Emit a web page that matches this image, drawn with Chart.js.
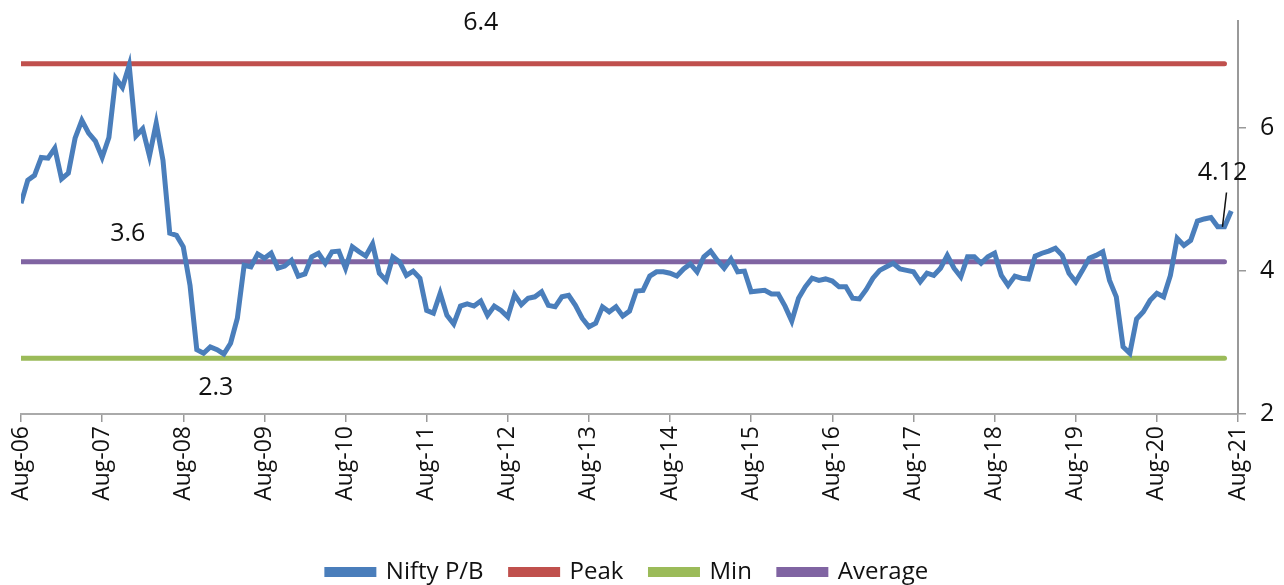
<!DOCTYPE html>
<html lang="en">
<head>
    <meta charset="UTF-8">
    <title>Nifty P/B</title>
    <script src="https://cdn.jsdelivr.net/npm/chart.js"></script>
    <style>
        html, body { margin: 0; padding: 0; background: #fff; }
        #wrap { width: 1284px; height: 585px; }
    </style>
</head>
<body>
    <div id="wrap"><canvas id="pbChart"></canvas></div>

    <script>
        // yearly tick labels on the x axis (one every 12 months)
        const tickLabels = ["Aug-06", "Aug-07", "Aug-08", "Aug-09", "Aug-10", "Aug-11", "Aug-12", "Aug-13",
            "Aug-14", "Aug-15", "Aug-16", "Aug-17", "Aug-18", "Aug-19", "Aug-20", "Aug-21"];
        const yTicks = [2, 4, 6];

        // monthly Nifty P/B, Aug-06 .. Jul-21
        const niftyPB = [
            4.95, 5.27, 5.34, 5.59, 5.58, 5.72, 5.29, 5.37, 5.86, 6.11, 5.93, 5.82,
            5.59, 5.87, 6.70, 6.57, 6.88, 5.89, 5.99, 5.61, 6.07, 5.55, 4.53, 4.50,
            4.34, 3.80, 2.90, 2.85, 2.94, 2.90, 2.84, 2.99, 3.34, 4.08, 4.06, 4.24,
            4.18, 4.25, 4.04, 4.07, 4.15, 3.93, 3.96, 4.20, 4.25, 4.11, 4.27, 4.28,
            4.04, 4.34, 4.27, 4.21, 4.38, 3.97, 3.87, 4.20, 4.13, 3.94, 4.00, 3.90,
            3.45, 3.41, 3.69, 3.38, 3.26, 3.51, 3.54, 3.51, 3.58, 3.38, 3.51, 3.45,
            3.36, 3.67, 3.53, 3.62, 3.64, 3.71, 3.52, 3.50, 3.64, 3.66, 3.52, 3.34,
            3.22, 3.27, 3.50, 3.43, 3.50, 3.37, 3.44, 3.72, 3.73, 3.93, 3.99, 3.99,
            3.97, 3.93, 4.03, 4.10, 3.99, 4.20, 4.28, 4.15, 4.04, 4.17, 3.99, 4.00,
            3.71, 3.72, 3.73, 3.68, 3.68, 3.51, 3.30, 3.62, 3.78, 3.90, 3.87, 3.89,
            3.86, 3.78, 3.78, 3.62, 3.61, 3.74, 3.90, 4.01, 4.06, 4.11, 4.03, 4.01,
            3.99, 3.85, 3.97, 3.94, 4.04, 4.22, 4.04, 3.92, 4.20, 4.20, 4.11, 4.20,
            4.25, 3.94, 3.80, 3.93, 3.90, 3.89, 4.21, 4.25, 4.28, 4.32, 4.22, 3.97,
            3.85, 4.01, 4.18, 4.22, 4.27, 3.87, 3.64, 2.94, 2.85, 3.33, 3.43, 3.59,
            3.69, 3.64, 3.94, 4.46, 4.36, 4.43, 4.70, 4.73, 4.75, 4.62, 4.62, 4.84
        ];

        const peakValue = 6.90;
        const minValue = 2.78;
        const avgValue = 4.13;
        const refLineMonths = 179;   // reference lines stop a little before the series end

        const flatLine = v => Array.from({ length: refLineMonths }, (_, i) => ({ x: i, y: v }));

        // text notes drawn on top of the chart, in data coordinates
        const notesPlugin = {
            id: 'notes',
            afterLayout(chart) {
                // legend sits a bit left of the canvas centre in the original
                chart.legend.left -= 25;
                chart.legend.right -= 25;
            },
            afterDatasetsDraw(chart) {
                const { ctx, scales: { x, y } } = chart;
                const notes = [
                    { text: "6.4", x: 68, y: 7.48 },
                    { text: "3.6", x: 15.8, y: 4.52 },
                    { text: "2.3", x: 28.8, y: 2.36 },
                    { text: "4.12", x: 177.7, y: 5.38 }
                ];
                ctx.save();
                ctx.fillStyle = "#111";
                ctx.font = "25px 'Open Sans'";
                ctx.textAlign = "center";
                ctx.textBaseline = "middle";
                notes.forEach(n => ctx.fillText(n.text, x.getPixelForValue(n.x), y.getPixelForValue(n.y)));
                // leader line from the 4.12 label down to the series
                ctx.strokeStyle = "#111";
                ctx.lineWidth = 1.5;
                ctx.beginPath();
                ctx.moveTo(x.getPixelForValue(178.3), y.getPixelForValue(5.10));
                ctx.lineTo(x.getPixelForValue(177.7), y.getPixelForValue(4.62));
                ctx.stroke();
                ctx.restore();
            }
        };

        function runChart() {
            const ctx = document.getElementById('pbChart').getContext('2d');
            new Chart(ctx, {
                type: 'line',
                data: {
                    datasets: [
                        {
                            label: "Nifty P/B",
                            data: niftyPB.map((v, i) => ({ x: i, y: v })),
                            borderColor: "#4a7ebb",
                            backgroundColor: "#4a7ebb",
                            borderWidth: 5,
                            order: 0
                        },
                        {
                            label: "Peak",
                            data: flatLine(peakValue),
                            borderColor: "#c0504d",
                            backgroundColor: "#c0504d",
                            borderWidth: 5,
                            borderCapStyle: 'round',
                            order: 1
                        },
                        {
                            label: "Min",
                            data: flatLine(minValue),
                            borderColor: "#9bbb59",
                            backgroundColor: "#9bbb59",
                            borderWidth: 5,
                            borderCapStyle: 'round',
                            order: 2
                        },
                        {
                            label: "Average",
                            data: flatLine(avgValue),
                            borderColor: "#8064a2",
                            backgroundColor: "#8064a2",
                            borderWidth: 5,
                            borderCapStyle: 'round',
                            order: 3
                        }
                    ]
                },
                options: {
                    responsive: true,
                    maintainAspectRatio: false,
                    animation: false,
                    elements: { point: { radius: 0 }, line: { tension: 0 } },
                    layout: { padding: { left: 21, right: 0, top: 21, bottom: -9 } },
                    plugins: {
                        tooltip: { enabled: false },
                        legend: {
                            position: 'bottom',
                            labels: {
                                boxWidth: 47,
                                boxHeight: 5,
                                padding: 27,
                                color: "#111",
                                font: { family: "'Open Sans'", size: 24 }
                            }
                        }
                    },
                    scales: {
                        x: {
                            type: 'linear',
                            min: 0,
                            max: 180,
                            afterBuildTicks: axis => {
                                axis.ticks = tickLabels.map((_, i) => ({ value: i * 12 }));
                            },
                            afterFit: axis => { axis.height = 119; },
                            ticks: {
                                autoSkip: false,
                                minRotation: 90,
                                maxRotation: 90,
                                padding: 4,
                                color: "#111",
                                font: { family: "'Open Sans'", size: 23 },
                                callback: v => tickLabels[v / 12]
                            },
                            grid: { drawOnChartArea: false, tickLength: 8, color: "#999", lineWidth: 1.5 },
                            border: { color: "#aaa", width: 2 }
                        },
                        y: {
                            position: 'right',
                            min: 2,
                            max: 7.5,
                            afterBuildTicks: axis => {
                                axis.ticks = yTicks.map(v => ({ value: v }));
                            },
                            afterFit: axis => {
                                axis.width = 46;
                                axis.paddingTop = 0;
                                axis.paddingBottom = 0;
                            },
                            ticks: {
                                padding: 14,
                                color: "#111",
                                font: { family: "'Open Sans'", size: 25 }
                            },
                            grid: { drawOnChartArea: false, tickLength: 8, color: "#999", lineWidth: 1.5 },
                            border: { color: "#999", width: 2 }
                        }
                    }
                },
                plugins: [notesPlugin]
            });
        }

        window.onload = runChart;
    </script>
</body>
</html>
